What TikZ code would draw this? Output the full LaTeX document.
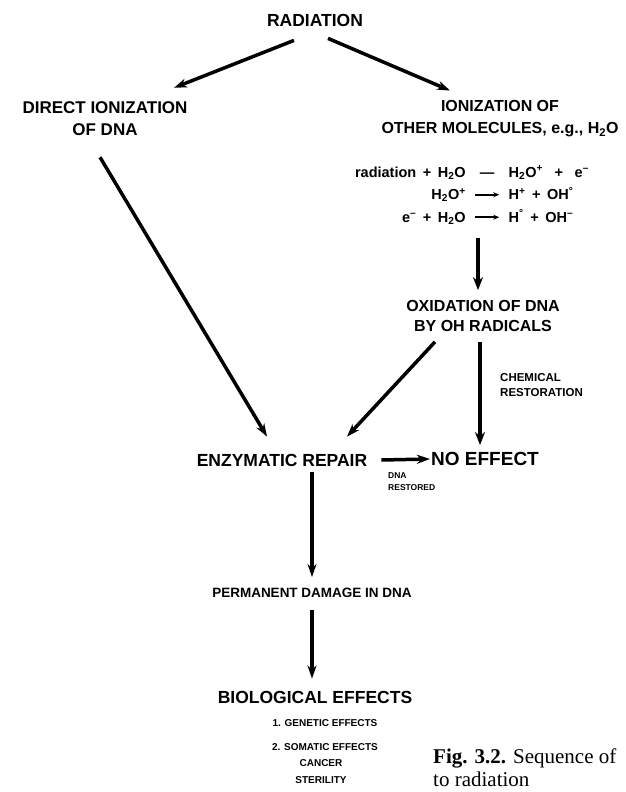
\documentclass[tikz,border=0pt]{standalone}
\usepackage{fontspec}
\setmainfont{Liberation Serif}
\newfontfamily\letterfont{Liberation Sans}
\usetikzlibrary{positioning, arrows.meta}
\newcommand{\yields}{\tikz[baseline=-0.33em]\draw[-{Stealth[length=6pt, width=5pt]}, line width=1.6pt] (0,0) -- (24,0);}
\newcommand{\pl}{\hspace{0.45em}+\hspace{0.45em}}

\begin{document}
\begin{tikzpicture}[
    x=1pt, y=-1pt,
    every node/.style={inner sep=1pt, text=black},
    big/.style={font=\letterfont\bfseries\fontsize{17.5}{21}\selectfont, align=center},
    mid/.style={font=\letterfont\bfseries\fontsize{17}{22}\selectfont, align=center},
    oxbox/.style={font=\letterfont\bfseries\fontsize{16}{20}\selectfont, align=center},
    eqbox/.style={font=\letterfont\bfseries\fontsize{14.5}{22.5}\selectfont},
    note/.style={font=\letterfont\bfseries\fontsize{11.5}{15}\selectfont, align=left},
    tiny/.style={font=\letterfont\bfseries\fontsize{8.5}{12}\selectfont, align=left},
    perm/.style={font=\letterfont\bfseries\fontsize{13.5}{16}\selectfont},
    list/.style={font=\letterfont\bfseries\fontsize{10}{12}\selectfont},
    caption/.style={font=\fontsize{21}{23}\selectfont, align=left},
    flow/.style={-{Stealth[length=13pt, width=9pt]}, line width=3.5pt},
    heavy/.style={-{Stealth[length=13pt, width=10pt]}, line width=4.5pt}
  ]
    \useasboundingbox[fill=white] (0,0) rectangle (625,792);

    \node[big] (rad) at (315,20) {RADIATION};
    \node[mid] (direct) at (105,119) {DIRECT IONIZATION\\OF DNA};
    \node[mid, font=\letterfont\bfseries\fontsize{16}{22}\selectfont] (other) at (500,119) {IONIZATION OF\\OTHER MOLECULES, e.g., H\textsubscript{2}O};
    \node[eqbox] (eqs) at (472,195) {\setlength{\tabcolsep}{0pt}%
      \begin{tabular}{r@{\hspace{0.6em}}c@{\hspace{0.6em}}l}
        radiation\pl H\textsubscript{2}O & — & H\textsubscript{2}O\textsuperscript{+}\hspace{0.8em}+\hspace{0.8em}e\textsuperscript{–}\\
        H\textsubscript{2}O\textsuperscript{+} & \yields & H\textsuperscript{+}\pl OH\textsuperscript{°}\\
        e\textsuperscript{–}\pl H\textsubscript{2}O & \yields & H\textsuperscript{°}\pl OH\textsuperscript{–}
      \end{tabular}};
    \node[oxbox] (oxid) at (483,316) {OXIDATION OF DNA\\BY OH RADICALS};
    \node[note, anchor=west] (chem) at (499,385) {CHEMICAL\\RESTORATION};
    \node[big] (repair) at (282,460) {ENZYMATIC REPAIR};
    \node[big, font=\letterfont\bfseries\fontsize{19}{22}\selectfont] (noeff) at (485,459) {NO EFFECT};
    \node[tiny, anchor=north west] (restored) at (387,471) {DNA\\RESTORED};
    \node[perm] (dmg) at (312,593) {PERMANENT DAMAGE IN DNA};
    \node[big] (bio) at (315,697) {BIOLOGICAL EFFECTS};
    \node[list] (genetic) at (325,723) {1. GENETIC EFFECTS};
    \node[list] (somatic) at (325,747) {2. SOMATIC EFFECTS};
    \node[list] (cancer) at (321,763) {CANCER};
    \node[list] (steril) at (321,780) {STERILITY};
    \node[caption, anchor=west] (fig) at (432,768) {\textbf{Fig. 3.2.} Sequence of\\to radiation};

    \draw[flow] ([xshift=-21pt, yshift=-13pt]rad.south) -- ([xshift=69pt, yshift=13pt]direct.north);
    \draw[flow] ([xshift=13pt, yshift=-11pt]rad.south) -- ([xshift=-50pt, yshift=9pt]other.north);
    \draw[flow] ([xshift=-5pt, yshift=-20pt]direct.south) -- ([xshift=-15pt, yshift=16pt]repair.north);
    \draw[heavy] ([xshift=6pt, yshift=-8pt]eqs.south) -- ([xshift=-5pt, yshift=9pt]oxid.north);
    \draw[flow] ([xshift=-48pt, yshift=-9pt]oxid.south) -- ([xshift=65pt, yshift=16pt]repair.north);
    \draw[heavy] ([xshift=-3pt, yshift=-9pt]oxid.south) -- ([xshift=-5pt, yshift=6pt]noeff.north);
    \draw[flow] ([xshift=13pt]repair.east) -- (noeff.west);
    \draw[flow] ([xshift=30pt, yshift=-5pt]repair.south) -- ([yshift=10pt]dmg.north);
    \draw[flow] ([yshift=-11pt]dmg.south) -- ([xshift=-3pt, yshift=11pt]bio.north);
  \end{tikzpicture}
\end{document}
